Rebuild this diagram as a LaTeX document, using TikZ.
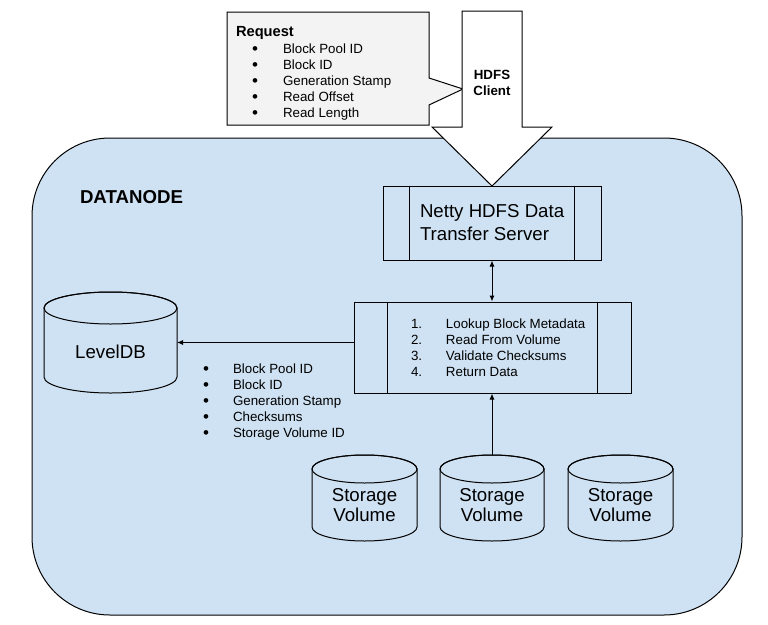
\documentclass[tikz,border=0pt]{standalone}
\usepackage{fontspec}
\setmainfont{Liberation Sans}
\usetikzlibrary{arrows.meta,calc}
\definecolor{dnblue}{HTML}{CFE2F3}
\definecolor{reqgray}{HTML}{F3F3F3}
\tikzset{
  ln/.style={draw=black,line width=1pt},
  txt/.style={inner sep=0pt,outer sep=0pt,text=black},
  small/.style={font=\fontsize{13.33}{16}\selectfont},
  big/.style={font=\fontsize{18.67}{23}\selectfont},
  arr/.style={ln,-{Latex[length=6pt,width=5pt]}},
  darr/.style={ln,{Latex[length=6pt,width=5pt]}-{Latex[length=6pt,width=5pt]}},
}
\newcommand\mybul{{\fontsize{17}{16}\selectfont\raisebox{-1.2pt}{•}}}
% name, cx, rx, t, b, ry
\newcommand\mycyl[6]{%
  \path[ln,fill=dnblue] ({#2-#3},#4) -- ({#2-#3},#5)
    arc[start angle=180,end angle=0,x radius=#3,y radius=#6]
    -- ({#2+#3},#4)
    arc[start angle=0,end angle=-180,x radius=#3,y radius=#6] -- cycle;
  \draw[ln] (#2,#4) ellipse[x radius=#3,y radius=#6];
  \node[inner sep=0pt,outer sep=0pt,minimum width=#3*2pt,minimum height={(#5-#4+2*#6)*1pt}] (#1) at (#2,{(#4+#5)/2}) {};
}
\begin{document}
\begin{tikzpicture}[x=1pt,y=-1pt]
\useasboundingbox (0,0) rectangle (768,624);
\fill[white] (0,0) rectangle (768,624);

% Datanode background
\node[ln,fill=dnblue,rounded corners=78pt,minimum width=710pt,minimum height=477pt,inner sep=0pt] (dn) at (387,376.5) {};
\node[txt,anchor=base west,font=\fontsize{18.67}{22}\selectfont\bfseries] (dnlabel) at (80,203) {DATANODE};

% Request callout
\path[ln,fill=reqgray] (227,12) -- (429,12) -- (429,78) -- (463,89) -- (429,105) -- (429,125) -- (227,125) -- cycle;
\node[txt,anchor=base west,font=\fontsize{14.67}{17}\selectfont\bfseries] (reqtitle) at (236,36) {Request};
\node[txt,small,anchor=north west,align=left] (reqlist) at (252.2,43.45)
 {\makebox[30.8pt][l]{\mybul}Block Pool ID\\
  \makebox[30.8pt][l]{\mybul}Block ID\\
  \makebox[30.8pt][l]{\mybul}Generation Stamp\\
  \makebox[30.8pt][l]{\mybul}Read Offset\\
  \makebox[30.8pt][l]{\mybul}Read Length};

% HDFS client arrow
\path[ln,fill=white] (462,11) -- (522,11) -- (522,127) -- (552,127) -- (492,186) -- (432,127) -- (462,127) -- cycle;
\node[txt,anchor=north,align=center,font=\fontsize{13.33}{16}\selectfont\bfseries] (client) at (492,70.45) {HDFS\\Client};

% Netty server
\node[ln,fill=dnblue,minimum width=218pt,minimum height=74pt,inner sep=0pt] (netty) at (492,223) {};
\draw[ln] ([xshift=27pt]netty.north west) -- ([xshift=27pt]netty.south west);
\draw[ln] ([xshift=-27pt]netty.north east) -- ([xshift=-27pt]netty.south east);
\node[txt,big,anchor=north west,align=left] (nettytext) at (420,204.6) {Netty HDFS Data\\Transfer Server};

% Process box
\node[ln,fill=dnblue,minimum width=277pt,minimum height=91pt,inner sep=0pt] (proc) at (492.5,347.5) {};
\draw[ln] ([xshift=34pt]proc.north west) -- ([xshift=34pt]proc.south west);
\draw[ln] ([xshift=-34pt]proc.north east) -- ([xshift=-34pt]proc.south east);
\node[txt,small,anchor=north west,align=left] (proclist) at (411,318.45)
 {\makebox[35pt][l]{1.}Lookup Block Metadata\\
  \makebox[35pt][l]{2.}Read From Volume\\
  \makebox[35pt][l]{3.}Validate Checksums\\
  \makebox[35pt][l]{4.}Return Data};

% LevelDB
\mycyl{ldb}{110.5}{66.5}{308}{377}{16}
\node[txt,big,anchor=base] (ldbtext) at (110.5,358) {LevelDB};

% metadata list
\node[txt,small,anchor=north west,align=left] (metalist) at (203.2,363.45)
 {\makebox[29.8pt][l]{\mybul}Block Pool ID\\
  \makebox[29.8pt][l]{\mybul}Block ID\\
  \makebox[29.8pt][l]{\mybul}Generation Stamp\\
  \makebox[29.8pt][l]{\mybul}Checksums\\
  \makebox[29.8pt][l]{\mybul}Storage Volume ID};

% Storage volumes
\mycyl{sv1}{364.5}{52.5}{469}{527}{14}
\mycyl{sv2}{492}{52}{469}{527}{14}
\mycyl{sv3}{620.5}{52.5}{469}{527}{14}
\node[txt,anchor=north,align=center,font=\fontsize{18.67}{20}\selectfont] (sv1text) at (364.5,488.6) {Storage\\Volume};
\node[txt,anchor=north,align=center,font=\fontsize{18.67}{20}\selectfont] (sv2text) at (492,488.6) {Storage\\Volume};
\node[txt,anchor=north,align=center,font=\fontsize{18.67}{20}\selectfont] (sv3text) at (620.5,488.6) {Storage\\Volume};

% connectors
\draw[darr] (netty.south) -- (netty.south |- proc.north);
\draw[arr] (proc.west |- ldb.east) -- (ldb.east);
\draw[arr] (sv2.north) -- (sv2.north |- proc.south);
\end{tikzpicture}
\end{document}
